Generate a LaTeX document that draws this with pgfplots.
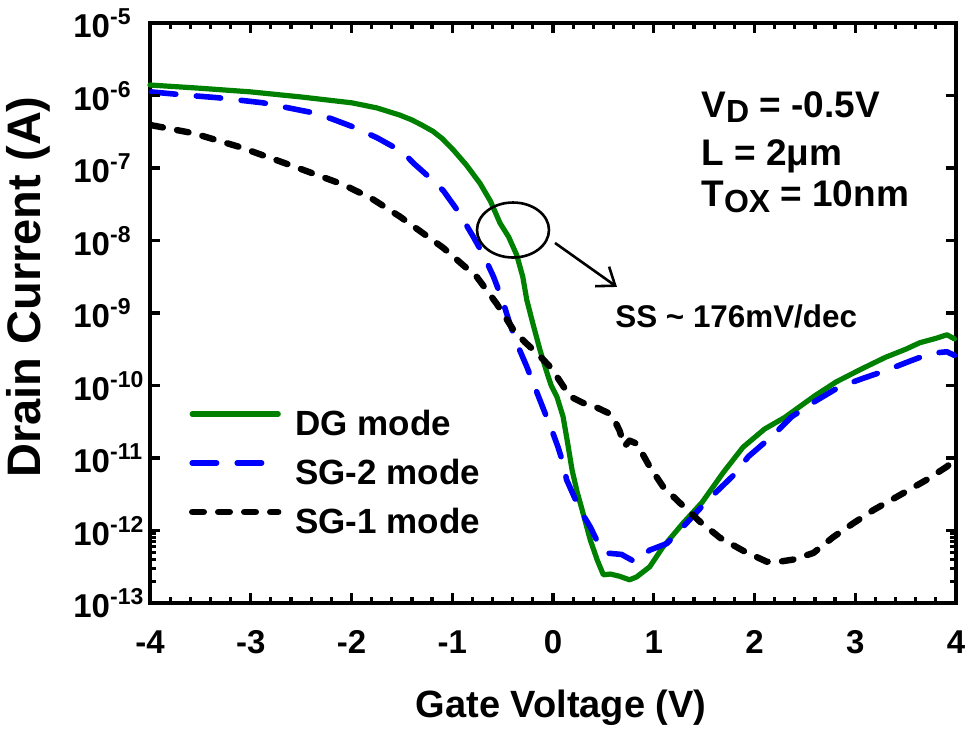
\documentclass[border=0pt]{standalone}
\usepackage{fontspec}
\setmainfont{Liberation Sans}
\usepackage{pgfplots}
\pgfplotsset{compat=1.18}
\usetikzlibrary{arrows.meta}

\definecolor{dggreen}{RGB}{0,128,0}
\definecolor{sgblue}{RGB}{0,0,255}

% power-of-ten tick label with a raised exponent
\newcommand{\pw}[1]{10\raisebox{6.5pt}{\fontsize{11.5}{11.5}\selectfont #1}}
\newcommand{\lowsub}[1]{\raisebox{-2.8pt}{\fontsize{16}{16}\selectfont #1}}

\begin{document}
\begin{tikzpicture}
\useasboundingbox (-75pt,-63pt) rectangle (408.5pt,301.5pt);
\begin{axis}[
  scale only axis, width=403pt, height=290pt,
  xmin=-4, xmax=4,
  ymode=log, ymin=1e-13, ymax=1e-5,
  clip=false,
  axis line style={line width=2pt},
  tick style={draw=none},
  xtick={-4,-3,-2,-1,0,1,2,3,4},
  xticklabels={-4,-3,-2,-1,0,1,2,3,4},
  ytick={1e-13,1e-12,1e-11,1e-10,1e-9,1e-8,1e-7,1e-6,1e-5},
  yticklabels={\pw{-13},\pw{-12},\pw{-11},\pw{-10},\pw{-9},\pw{-8},\pw{-7},\pw{-6},\pw{-5}},
  tick label style={font=\bfseries\fontsize{16.5}{18}\selectfont},
  xticklabel style={inner sep=0pt, yshift=-13.5pt},
  yticklabel style={anchor=west, inner sep=0pt, xshift=-38.5pt, yshift=-0.3pt},
  xlabel={Gate Voltage (V)},
  ylabel={Drain Current (A)},
  xlabel style={at={(axis description cs:0.51,-0.1966)}, anchor=base,
                font=\bfseries\fontsize{19}{22}\selectfont},
  ylabel style={at={(axis description cs:-0.151,0.545)}, anchor=center,
                font=\bfseries\fontsize{23.5}{26}\selectfont},
  legend style={draw=none, fill=none,
                at={(axis description cs:0.0484,0.2241)}, anchor=west,
                inner sep=0pt, outer sep=0pt, row sep=10.3pt,
                font=\bfseries\fontsize{17.5}{19}\selectfont,
                nodes={inner sep=0pt},
                /tikz/every odd column/.append style={column sep=7pt}},
  legend cell align=left,
  legend image code/.code={\draw[#1] (0pt,5pt) -- (43pt,5pt);},
]

% DG mode
\addplot[dggreen, line width=2.6pt, line cap=round, line join=round] coordinates {
(-4.00,1.396e-6) (-3.50,1.259e-6) (-3.00,1.122e-6) (-2.50,9.55e-7)
(-2.00,7.94e-7) (-1.75,6.76e-7) (-1.52,5.37e-7) (-1.40,4.60e-7)
(-1.30,3.90e-7) (-1.19,3.20e-7) (-1.10,2.55e-7) (-0.99,1.78e-7)
(-0.86,1.10e-7)
(-0.725,6.17e-8) (-0.62,3.47e-8) (-0.526,1.74e-8) (-0.44,1.12e-8)
(-0.36,6.31e-9) (-0.30,3.16e-9) (-0.26,1.51e-9) (-0.195,6.76e-10)
(-0.129,3.09e-10) (-0.07,1.66e-10) (-0.02,1.02e-10) (0.04,6.92e-11)
(0.10,3.72e-11) (0.14,1.78e-11) (0.19,6.76e-12) (0.24,3.39e-12)
(0.29,1.91e-12) (0.37,7.41e-13) (0.44,3.89e-13) (0.50,2.45e-13)
(0.57,2.51e-13) (0.66,2.34e-13) (0.76,2.09e-13) (0.83,2.29e-13)
(0.96,3.16e-13) (1.09,5.89e-13) (1.29,1.26e-12) (1.48,2.45e-12)
(1.69,6.31e-12) (1.886,1.41e-11) (2.10,2.51e-11) (2.30,3.63e-11)
(2.40,4.57e-11) (2.60,7.24e-11) (2.81,1.12e-10) (3.05,1.66e-10)
(3.30,2.45e-10) (3.50,3.16e-10) (3.64,3.89e-10) (3.80,4.47e-10)
(3.91,5.01e-10) (3.985,4.40e-10)
};
\addlegendentry{DG mode}

% SG-2 mode
\addplot[sgblue, line width=2.8pt, line cap=round, line join=round,
         dash pattern=on 12.2pt off 10.3pt] coordinates {
(-3.985,1.12e-6) (-3.60,1.00e-6) (-3.33,9.33e-7) (-2.88,7.94e-7)
(-2.41,5.89e-7) (-2.20,4.79e-7) (-1.99,3.72e-7) (-1.75,2.63e-7)
(-1.49,1.66e-7) (-1.386,1.17e-7) (-1.25,7.94e-8) (-1.09,4.90e-8)
(-0.94,2.51e-8) (-0.79,1.12e-8) (-0.69,6.31e-9) (-0.59,3.16e-9)
(-0.50,1.48e-9) (-0.43,7.24e-10) (-0.35,3.55e-10) (-0.26,1.82e-10)
(-0.13,6.31e-11) (0.00,2.19e-11) (0.05,1.41e-11) (0.10,8.51e-12)
(0.135,5.01e-12) (0.27,1.91e-12) (0.37,1.12e-12) (0.44,7.08e-13)
(0.52,4.90e-13) (0.60,4.79e-13) (0.68,4.68e-13) (0.81,3.72e-13)
(0.96,5.37e-13) (1.13,6.61e-13) (1.29,1.12e-12) (1.53,2.57e-12)
(1.79,5.75e-12) (1.94,1.05e-11) (2.19,2.09e-11) (2.37,3.72e-11)
(2.60,6.03e-11) (2.84,9.55e-11) (3.08,1.26e-10) (3.31,1.62e-10)
(3.55,2.19e-10) (3.75,2.78e-10) (3.91,2.92e-10) (3.985,2.60e-10)
};
\addlegendentry{SG-2 mode}

% SG-1 mode
\addplot[black, line width=3.2pt, line cap=round, line join=round,
         dash pattern=on 5.8pt off 7.2pt] coordinates {
(-3.985,3.89e-7) (-3.57,3.02e-7) (-3.11,1.95e-7) (-2.61,1.10e-7)
(-2.08,5.89e-8) (-1.80,3.80e-8) (-1.52,2.14e-8) (-1.29,1.26e-8)
(-1.09,7.94e-9) (-0.90,4.68e-9) (-0.757,3.16e-9) (-0.56,1.35e-9)
(-0.394,5.89e-10) (-0.28,3.98e-10) (-0.162,2.82e-10) (-0.03,1.82e-10)
(0.04,1.32e-10) (0.169,7.08e-11) (0.30,5.75e-11) (0.43,5.01e-11)
(0.55,4.17e-11) (0.60,3.55e-11) (0.66,2.40e-11) (0.71,1.45e-11)
(0.76,1.74e-11) (0.83,1.58e-11) (0.90,1.07e-11) (0.96,7.59e-12)
(1.095,3.98e-12) (1.26,2.40e-12) (1.46,1.32e-12) (1.658,7.94e-13)
(1.889,5.25e-13) (2.121,3.72e-13) (2.25,3.72e-13) (2.385,3.98e-13)
(2.584,4.90e-13) (2.782,8.13e-13) (2.981,1.26e-12) (3.179,1.91e-12)
(3.444,3.09e-12) (3.709,5.01e-12) (3.908,7.59e-12) (3.985,9.30e-12)
};
\addlegendentry{SG-1 mode}

% device conditions
\node[anchor=base west, inner sep=0pt, font=\bfseries\fontsize{18.5}{20}\selectfont]
  at (axis cs:1.469,5.05e-7) {V\lowsub{D} = -0.5V};
\node[anchor=base west, inner sep=0pt, font=\bfseries\fontsize{18.5}{20}\selectfont]
  at (axis cs:1.469,1.10e-7) {L = 2μm};
\node[anchor=base west, inner sep=0pt, font=\bfseries\fontsize{18.5}{20}\selectfont]
  at (axis cs:1.469,2.90e-8) {T\lowsub{OX} = 10nm};

% subthreshold swing callout
\draw[line width=1.3pt] (axis cs:-0.397,1.396e-8) ellipse [x radius=18pt, y radius=13.75pt];
\draw[line width=1.3pt, -{Straight Barb[length=8pt,width=12pt]}]
  (axis cs:0.020,9.25e-9) -- (axis cs:0.635,2.29e-9);
\node[anchor=base west, inner sep=0pt, font=\bfseries\fontsize{15.7}{18}\selectfont]
  at (axis cs:0.615,6.41e-10) {SS \textasciitilde{} 176mV/dec};

% inward tick marks on all four sides, given as end points in axis units
\pgfplotsinvokeforeach{-4,-3,-2,-1,0,1,2,3,4}{
  \draw[line width=1.6pt] (axis cs:#1,1e-13) -- (axis cs:#1,1.374e-13);
  \draw[line width=1.6pt] (axis cs:#1,1e-5) -- (axis cs:#1,7.28e-6);
}
\pgfplotsinvokeforeach{-3.8,-3.6,-3.4,-3.2,-2.8,-2.6,-2.4,-2.2,-1.8,-1.6,-1.4,-1.2,
  -0.8,-0.6,-0.4,-0.2,0.2,0.4,0.6,0.8,1.2,1.4,1.6,1.8,2.2,2.4,2.6,2.8,3.2,3.4,3.6,3.8}{
  \draw[line width=1.6pt] (axis cs:#1,1e-13) -- (axis cs:#1,1.21e-13);
  \draw[line width=1.6pt] (axis cs:#1,1e-5) -- (axis cs:#1,8.26e-6);
}
\pgfplotsinvokeforeach{-13,-12,-11,-10,-9,-8,-7,-6,-5}{
  \draw[line width=1.6pt] (axis cs:-4,1e#1) -- (axis cs:-3.9007,1e#1);
  \draw[line width=1.6pt] (axis cs:4,1e#1) -- (axis cs:3.9007,1e#1);
}
\pgfplotsinvokeforeach{-13,-12,-11,-10,-9,-8,-7,-6}{
  \pgfplotsinvokeforeach{2,3,4,5,6,7,8,9}{
    \draw[line width=1.6pt] (axis cs:-4,##1e#1) -- (axis cs:-3.9404,##1e#1);
    \draw[line width=1.6pt] (axis cs:4,##1e#1) -- (axis cs:3.9404,##1e#1);
  }
}

\end{axis}
\end{tikzpicture}
\end{document}
